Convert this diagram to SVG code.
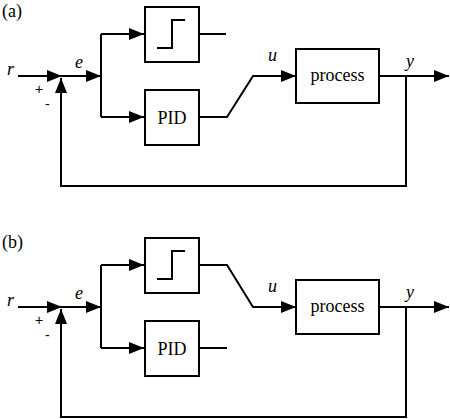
<svg xmlns="http://www.w3.org/2000/svg" width="450" height="419" viewBox="0 0 450 419">
<style>
.box{fill:#fff;stroke:#000;stroke-width:2}
.ln{fill:none;stroke:#000;stroke-width:2}
.arr{fill:none;stroke:#000;stroke-width:2;marker-end:url(#ah)}
.t{font-family:"Liberation Serif","Times New Roman",serif;font-size:18px;fill:#000}
.i{font-family:"Liberation Serif","Times New Roman",serif;font-size:18px;font-style:italic;fill:#000}
.s{font-family:"Liberation Sans",Arial,sans-serif;font-size:14px;fill:#000}
</style>
<defs>
<marker id="ah" markerUnits="userSpaceOnUse" markerWidth="15" markerHeight="12" refX="15" refY="6" orient="auto" viewBox="0 0 15 12">
<path d="M0,0 L15,6 L0,12 Z" fill="#000"/>
</marker>
</defs>
<rect width="450" height="419" fill="#fff"/>

<!-- Panel (a) -->
<text class="t" x="2" y="17">(a)</text>
<g id="connectors-a">
<path class="arr" d="M18,76 H62"/>
<path class="arr" d="M61,76 H101"/>
<path class="ln" d="M101,34 V117"/>
<path class="arr" d="M101,34 H144"/>
<path class="arr" d="M101,117 H144"/>
<path class="ln" d="M199,34 H226"/>
<path class="arr" d="M199,117 H227 L253,76 H296"/>
<path class="arr" d="M379,76 H449"/>
<path class="arr" d="M406,76 V186 H61 V78"/>
</g>
<g id="relay-a">
<rect class="box" x="145" y="7" width="54" height="55"/>
<path class="ln" d="M157,48 H172 V20 H185"/>
</g>
<g id="pid-a">
<rect class="box" x="145" y="90" width="54" height="55"/>
<text class="t" x="172" y="124" text-anchor="middle">PID</text>
</g>
<g id="process-a">
<rect class="box" x="296" y="49" width="83" height="54"/>
<text class="t" x="337.5" y="81" text-anchor="middle">process</text>
</g>
<g id="labels-a">
<text class="i" x="7" y="75">r</text>
<text class="i" x="75" y="68">e</text>
<text class="s" x="35" y="94">+</text>
<text class="s" x="45" y="109">-</text>
<text class="i" x="268" y="61">u</text>
<text class="i" x="406" y="67">y</text>
</g>

<!-- Panel (b) -->
<text class="t" x="2" y="248">(b)</text>
<g id="connectors-b">
<path class="arr" d="M18,307 H62"/>
<path class="arr" d="M61,307 H101"/>
<path class="ln" d="M101,265 V348"/>
<path class="arr" d="M101,265 H144"/>
<path class="arr" d="M101,348 H144"/>
<path class="arr" d="M199,265 H227 L253,307 H296"/>
<path class="ln" d="M199,348 H227"/>
<path class="arr" d="M379,307 H449"/>
<path class="arr" d="M406,307 V417 H61 V309"/>
</g>
<g id="relay-b">
<rect class="box" x="145" y="238" width="54" height="55"/>
<path class="ln" d="M157,279 H172 V251 H185"/>
</g>
<g id="pid-b">
<rect class="box" x="145" y="321" width="54" height="55"/>
<text class="t" x="172" y="355" text-anchor="middle">PID</text>
</g>
<g id="process-b">
<rect class="box" x="296" y="280" width="83" height="54"/>
<text class="t" x="337.5" y="312" text-anchor="middle">process</text>
</g>
<g id="labels-b">
<text class="i" x="7" y="306">r</text>
<text class="i" x="75" y="299">e</text>
<text class="s" x="35" y="325">+</text>
<text class="s" x="45" y="340">-</text>
<text class="i" x="268" y="292">u</text>
<text class="i" x="406" y="298">y</text>
</g>
</svg>
